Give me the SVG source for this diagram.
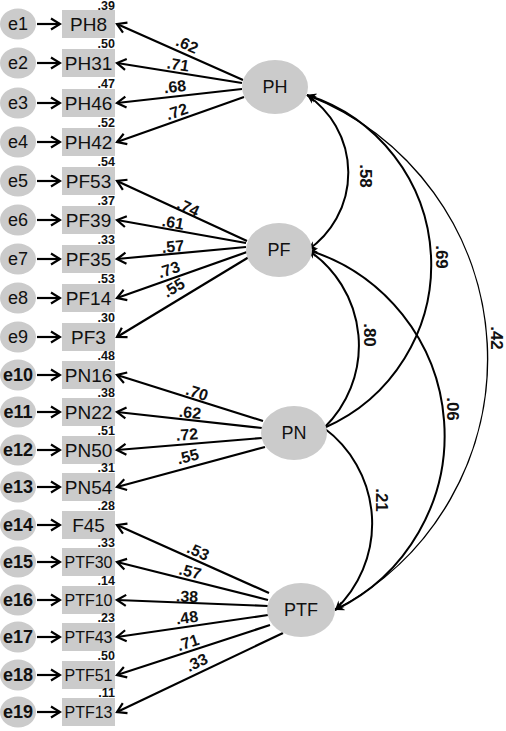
<svg xmlns="http://www.w3.org/2000/svg" width="506" height="731" viewBox="0 0 506 731">
<style>
.err{fill:#cbcbcb}
.box{fill:#cbcbcb}
.lat{fill:#cbcbcb}
text{font-family:"Liberation Sans",Arial,sans-serif;fill:#111}
.et{font-size:18px;text-anchor:middle}
.eb{font-size:18px;text-anchor:middle;font-weight:bold}
.bt{font-size:19px;text-anchor:middle}
.bs{font-size:16px;text-anchor:middle}
.r2{font-size:12.5px;font-weight:bold;text-anchor:end}
.lt{font-size:18px;text-anchor:middle}
.ld{font-size:16px;font-weight:bold;text-anchor:middle}
.cv{font-size:17px;font-weight:bold;text-anchor:middle}
.ln{stroke:#000;stroke-width:2.2;fill:none}
.ea{stroke:#000;stroke-width:2.2;fill:none}
.cov{stroke:#000;stroke-width:2;fill:none}
</style>
<defs>
<marker id="op" viewBox="-12 -8 14 16" refX="0" refY="0" markerWidth="14" markerHeight="16" markerUnits="userSpaceOnUse" orient="auto">
<path d="M-9,-5.5 L0,0 L-9,5.5" fill="none" stroke="#000" stroke-width="2.2"/>
</marker>
<marker id="fh" viewBox="-10 -6 12 12" refX="0" refY="0" markerWidth="12" markerHeight="12" markerUnits="userSpaceOnUse" orient="auto-start-reverse">
<path d="M-9,-4.5 L0,0 L-9,4.5 L-6,0 Z" fill="#000"/>
</marker>
</defs>

<g id="connectors">
<g class="ea" marker-end="url(#op)">
<line x1="37" y1="24" x2="60" y2="24"/>
<line x1="37" y1="63" x2="60" y2="63"/>
<line x1="37" y1="103" x2="60" y2="103"/>
<line x1="37" y1="142" x2="60" y2="142"/>
<line x1="37" y1="181" x2="60" y2="181"/>
<line x1="37" y1="220" x2="60" y2="220"/>
<line x1="37" y1="259" x2="60" y2="259"/>
<line x1="37" y1="298" x2="60" y2="298"/>
<line x1="37" y1="337" x2="60" y2="337"/>
<line x1="37" y1="375" x2="60" y2="375"/>
<line x1="37" y1="412" x2="60" y2="412"/>
<line x1="37" y1="450" x2="60" y2="450"/>
<line x1="37" y1="487" x2="60" y2="487"/>
<line x1="37" y1="525" x2="60" y2="525"/>
<line x1="37" y1="562" x2="60" y2="562"/>
<line x1="37" y1="600" x2="60" y2="600"/>
<line x1="37" y1="637" x2="60" y2="637"/>
<line x1="37" y1="675" x2="60" y2="675"/>
<line x1="37" y1="712" x2="60" y2="712"/>
</g>
<g class="ln" marker-end="url(#op)">
<line x1="243" y1="80" x2="117" y2="24"/>
<line x1="242" y1="83" x2="117" y2="63"/>
<line x1="242" y1="89" x2="117" y2="103"/>
<line x1="244" y1="97" x2="117" y2="142"/>
<line x1="247" y1="241" x2="117" y2="181"/>
<line x1="246" y1="243" x2="117" y2="220"/>
<line x1="246" y1="247" x2="117" y2="259"/>
<line x1="247" y1="252" x2="117" y2="298"/>
<line x1="249" y1="257" x2="117" y2="337"/>
<line x1="263" y1="421" x2="117" y2="375"/>
<line x1="262" y1="428" x2="117" y2="412"/>
<line x1="262" y1="438" x2="117" y2="450"/>
<line x1="265" y1="447" x2="117" y2="487"/>
<line x1="269" y1="593" x2="117" y2="525"/>
<line x1="268" y1="600" x2="117" y2="562"/>
<line x1="268" y1="606" x2="117" y2="600"/>
<line x1="268" y1="615" x2="117" y2="637"/>
<line x1="270" y1="625" x2="117" y2="675"/>
<line x1="283" y1="633" x2="117" y2="712"/>
</g>
<path class="cov" d="M307,95 A94,94 0 0 1 308,250" marker-start="url(#fh)" marker-end="url(#fh)"/>
<path class="cov" d="M307,95 A178,178 0 0 1 324,428" marker-start="url(#fh)"/>
<path class="cov" d="M307,95 A283,283 0 0 1 335,610" style="stroke-width:1.4" marker-start="url(#fh)" marker-end="url(#fh)"/>
<path class="cov" d="M308,250 A115,115 0 0 1 324,428" marker-start="url(#fh)"/>
<path class="cov" d="M308,250 A194,194 0 0 1 335,610" marker-start="url(#fh)" marker-end="url(#fh)"/>
<path class="cov" d="M324,428 A119,119 0 0 1 335,610" marker-end="url(#fh)"/>
<g class="ld">
<text transform="translate(187,45) rotate(24)" y="5">.62</text>
<text transform="translate(178,65) rotate(9)" y="5">.71</text>
<text transform="translate(175,87) rotate(-6)" y="5">.68</text>
<text transform="translate(177,112) rotate(-19)" y="5">.72</text>
<text transform="translate(188,208) rotate(25)" y="5">.74</text>
<text transform="translate(173,223) rotate(10)" y="5">.61</text>
<text transform="translate(173,247) rotate(-5)" y="5">.57</text>
<text transform="translate(169,270) rotate(-19)" y="5">.73</text>
<text transform="translate(174,288) rotate(-31)" y="5">.55</text>
<text transform="translate(197,393) rotate(18)" y="5">.70</text>
<text transform="translate(190,413) rotate(6)" y="5">.62</text>
<text transform="translate(187,435) rotate(-4)" y="5">.72</text>
<text transform="translate(188,457) rotate(-14)" y="5">.55</text>
<text transform="translate(198,552) rotate(24)" y="5">.53</text>
<text transform="translate(190,572) rotate(14)" y="5">.57</text>
<text transform="translate(187,597) rotate(2)" y="5">.38</text>
<text transform="translate(187,618) rotate(-8)" y="5">.48</text>
<text transform="translate(188,643) rotate(-18)" y="5">.71</text>
<text transform="translate(197,663) rotate(-25)" y="5">.33</text>
</g>
<g class="cv">
<text transform="translate(366,176) rotate(90)" y="6">.58</text>
<text transform="translate(442,257) rotate(90)" y="6">.69</text>
<text transform="translate(497,338) rotate(90)" y="6">.42</text>
<text transform="translate(370,335) rotate(90)" y="6">.80</text>
<text transform="translate(453,409) rotate(90)" y="6">.06</text>
<text transform="translate(382,500) rotate(90)" y="6">.21</text>
</g>
</g>

<g id="e1"><ellipse class="err" cx="18" cy="24" rx="18" ry="15.5"/><text class="et" x="18" y="30">e1</text></g>
<g id="e2"><ellipse class="err" cx="18" cy="63" rx="18" ry="15.5"/><text class="et" x="18" y="69">e2</text></g>
<g id="e3"><ellipse class="err" cx="18" cy="103" rx="18" ry="15.5"/><text class="et" x="18" y="109">e3</text></g>
<g id="e4"><ellipse class="err" cx="18" cy="142" rx="18" ry="15.5"/><text class="et" x="18" y="148">e4</text></g>
<g id="e5"><ellipse class="err" cx="18" cy="181" rx="18" ry="15.5"/><text class="et" x="18" y="187">e5</text></g>
<g id="e6"><ellipse class="err" cx="18" cy="220" rx="18" ry="15.5"/><text class="et" x="18" y="226">e6</text></g>
<g id="e7"><ellipse class="err" cx="18" cy="259" rx="18" ry="15.5"/><text class="et" x="18" y="265">e7</text></g>
<g id="e8"><ellipse class="err" cx="18" cy="298" rx="18" ry="15.5"/><text class="et" x="18" y="304">e8</text></g>
<g id="e9"><ellipse class="err" cx="18" cy="337" rx="18" ry="15.5"/><text class="et" x="18" y="343">e9</text></g>
<g id="e10"><ellipse class="err" cx="18" cy="375" rx="18" ry="15.5"/><text class="eb" x="18" y="381">e10</text></g>
<g id="e11"><ellipse class="err" cx="18" cy="412" rx="18" ry="15.5"/><text class="eb" x="18" y="418">e11</text></g>
<g id="e12"><ellipse class="err" cx="18" cy="450" rx="18" ry="15.5"/><text class="eb" x="18" y="456">e12</text></g>
<g id="e13"><ellipse class="err" cx="18" cy="487" rx="18" ry="15.5"/><text class="eb" x="18" y="493">e13</text></g>
<g id="e14"><ellipse class="err" cx="18" cy="525" rx="18" ry="15.5"/><text class="eb" x="18" y="531">e14</text></g>
<g id="e15"><ellipse class="err" cx="18" cy="562" rx="18" ry="15.5"/><text class="eb" x="18" y="568">e15</text></g>
<g id="e16"><ellipse class="err" cx="18" cy="600" rx="18" ry="15.5"/><text class="eb" x="18" y="606">e16</text></g>
<g id="e17"><ellipse class="err" cx="18" cy="637" rx="18" ry="15.5"/><text class="eb" x="18" y="643">e17</text></g>
<g id="e18"><ellipse class="err" cx="18" cy="675" rx="18" ry="15.5"/><text class="eb" x="18" y="681">e18</text></g>
<g id="e19"><ellipse class="err" cx="18" cy="712" rx="18" ry="15.5"/><text class="eb" x="18" y="718">e19</text></g>

<g id="PH8"><rect class="box" x="62" y="10" width="53" height="28"/><text class="bt" x="88.5" y="31">PH8</text><text class="r2" x="115" y="10">.39</text></g>
<g id="PH31"><rect class="box" x="62" y="49" width="53" height="28"/><text class="bt" x="88.5" y="70">PH31</text><text class="r2" x="115" y="48">.50</text></g>
<g id="PH46"><rect class="box" x="62" y="89" width="53" height="28"/><text class="bt" x="88.5" y="110">PH46</text><text class="r2" x="115" y="88">.47</text></g>
<g id="PH42"><rect class="box" x="62" y="128" width="53" height="28"/><text class="bt" x="88.5" y="149">PH42</text><text class="r2" x="115" y="127">.52</text></g>
<g id="PF53"><rect class="box" x="62" y="167" width="53" height="28"/><text class="bt" x="88.5" y="188">PF53</text><text class="r2" x="115" y="166">.54</text></g>
<g id="PF39"><rect class="box" x="62" y="206" width="53" height="28"/><text class="bt" x="88.5" y="227">PF39</text><text class="r2" x="115" y="205">.37</text></g>
<g id="PF35"><rect class="box" x="62" y="245" width="53" height="28"/><text class="bt" x="88.5" y="266">PF35</text><text class="r2" x="115" y="244">.33</text></g>
<g id="PF14"><rect class="box" x="62" y="284" width="53" height="28"/><text class="bt" x="88.5" y="305">PF14</text><text class="r2" x="115" y="283">.53</text></g>
<g id="PF3"><rect class="box" x="62" y="323" width="53" height="28"/><text class="bt" x="88.5" y="344">PF3</text><text class="r2" x="115" y="322">.30</text></g>
<g id="PN16"><rect class="box" x="62" y="361" width="53" height="28"/><text class="bt" x="88.5" y="382">PN16</text><text class="r2" x="115" y="360">.48</text></g>
<g id="PN22"><rect class="box" x="62" y="398" width="53" height="28"/><text class="bt" x="88.5" y="419">PN22</text><text class="r2" x="115" y="397">.38</text></g>
<g id="PN50"><rect class="box" x="62" y="436" width="53" height="28"/><text class="bt" x="88.5" y="457">PN50</text><text class="r2" x="115" y="435">.51</text></g>
<g id="PN54"><rect class="box" x="62" y="473" width="53" height="28"/><text class="bt" x="88.5" y="494">PN54</text><text class="r2" x="115" y="472">.31</text></g>
<g id="F45"><rect class="box" x="62" y="511" width="53" height="28"/><text class="bt" x="88.5" y="532">F45</text><text class="r2" x="115" y="510">.28</text></g>
<g id="PTF30"><rect class="box" x="62" y="548" width="53" height="28"/><text class="bs" x="88.5" y="568">PTF30</text><text class="r2" x="115" y="547">.33</text></g>
<g id="PTF10"><rect class="box" x="62" y="586" width="53" height="28"/><text class="bs" x="88.5" y="606">PTF10</text><text class="r2" x="115" y="585">.14</text></g>
<g id="PTF43"><rect class="box" x="62" y="623" width="53" height="28"/><text class="bs" x="88.5" y="643">PTF43</text><text class="r2" x="115" y="622">.23</text></g>
<g id="PTF51"><rect class="box" x="62" y="661" width="53" height="28"/><text class="bs" x="88.5" y="681">PTF51</text><text class="r2" x="115" y="660">.50</text></g>
<g id="PTF13"><rect class="box" x="62" y="698" width="53" height="28"/><text class="bs" x="88.5" y="718">PTF13</text><text class="r2" x="115" y="697">.11</text></g>

<g id="PH"><ellipse class="lat" cx="275" cy="87" rx="33" ry="27"/><text class="lt" x="275" y="93">PH</text></g>
<g id="PF"><ellipse class="lat" cx="279" cy="250" rx="33" ry="27"/><text class="lt" x="279" y="256">PF</text></g>
<g id="PN"><ellipse class="lat" cx="294" cy="433" rx="33" ry="27"/><text class="lt" x="294" y="439">PN</text></g>
<g id="PTF"><ellipse class="lat" cx="301" cy="610" rx="34" ry="27"/><text class="lt" x="301" y="616">PTF</text></g>
</svg>
